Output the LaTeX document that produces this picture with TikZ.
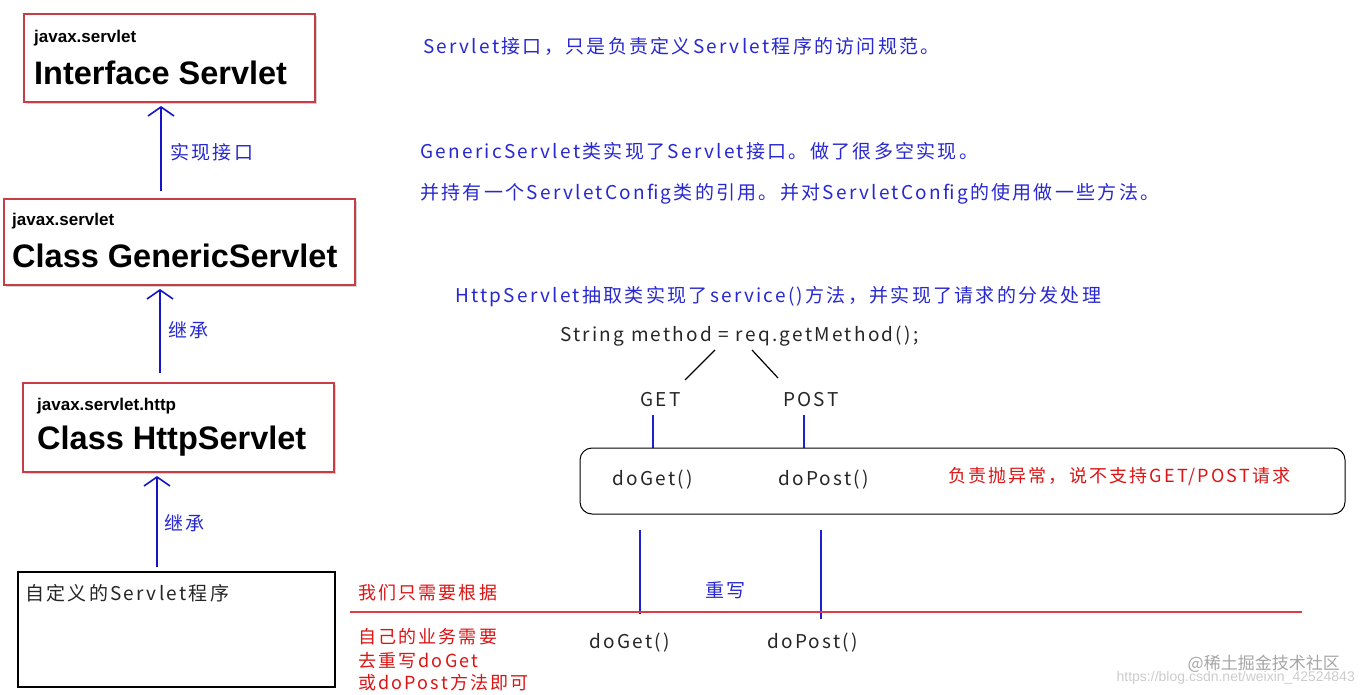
\documentclass[tikz,border=0pt]{standalone}
\usepackage{fontspec}
\setmainfont{Liberation Sans}
\newfontfamily\cjk[LetterSpace=12]{Noto Sans CJK SC}
\newfontfamily\cjkw{Noto Sans CJK SC}
\usetikzlibrary{arrows.meta,shadows}
\definecolor{boxred}{RGB}{200,60,70}
\definecolor{lred}{RGB}{220,60,70}
\definecolor{tred}{RGB}{220,20,20}
\definecolor{ablue}{RGB}{20,20,200}
\definecolor{lblue}{RGB}{30,30,210}
\definecolor{tblue}{RGB}{40,40,210}
\begin{document}
\begin{tikzpicture}[x=1pt,y=-1pt,
  cls/.style={draw=boxred,line width=1.6pt,fill=white,drop shadow={shadow xshift=2pt,shadow yshift=-2pt,opacity=0.35}},
  up/.style={draw=ablue,line width=1.8pt,-{Straight Barb[length=9pt,width=26pt,line width=1.6pt]}},
  bl/.style={draw=lblue,line width=1.3pt},
  bt/.style={font=\cjk\fontsize{19}{21}\selectfont,text=tblue,anchor=west,inner sep=0},
  kt/.style={font=\cjk\fontsize{19}{21}\selectfont,text=black!85,anchor=west,inner sep=0},
  rt/.style={font=\cjk\fontsize{18}{20}\selectfont,text=tred,anchor=west,inner sep=0},
  small/.style={font=\bfseries\fontsize{17}{19}\selectfont,anchor=west,inner sep=0},
  big/.style={font=\bfseries\fontsize{32.5}{34}\selectfont,anchor=west,inner sep=0}]
\useasboundingbox[fill=white] (0,0) rectangle (1362,695);
% boxes
\draw[cls] (24,14) rectangle (315,102);
\node[small] (s1) at (34,38) {javax.servlet};
\node[big] (b1) at (34,73) {Interface Servlet};
\draw[cls] (4,199) rectangle (355,285);
\node[small] (s2) at (12,221) {javax.servlet};
\node[big] (b2) at (12,256) {Class GenericServlet};
\draw[cls] (23,383) rectangle (334,472);
\node[small] (s3) at (37,406) {javax.servlet.http};
\node[big] (b3) at (37,441) {Class HttpServlet};
\draw[black,line width=2pt] (18,572) rectangle (335,687);
\node[kt] (c) at (25,593) {自定义的Servlet程序};
% arrows
\coordinate (a1s) at (161,191); \coordinate (a1e) at (161,106);
\draw[up] (a1s) -- (a1e);
\node[bt] (l1) at (170,152) {实现接口};
\coordinate (a2s) at (160,373); \coordinate (a2e) at (160,289);
\draw[up] (a2s) -- (a2e);
\node[bt] (l2) at (168,330) {继承};
\coordinate (a3s) at (157,567); \coordinate (a3e) at (157,476);
\draw[up] (a3s) -- (a3e);
\node[bt] (l3) at (164,523) {继承};
% notes
\node[bt] (n1) at (423,46) {Servlet接口，只是负责定义Servlet程序的访问规范。};
\node[bt] (n2) at (420,151) {GenericServlet类实现了Servlet接口。做了很多空实现。};
\node[bt] (n3) at (420,194) {并持有一个ServletConfig类的引用。并对ServletConfig的使用做一些方法。};
\node[bt] (n4) at (455,297) {HttpServlet抽取类实现了service()方法，并实现了请求的分发处理};
\node[kt] (m) at (560,336) {String method = req.getMethod();};
\coordinate (m1) at (715,350); \coordinate (g1) at (685,380);
\coordinate (m2) at (752,350); \coordinate (p1) at (778,378);
\draw[black,line width=1.2pt] (m1) -- (g1) (m2) -- (p1);
\node[kt] (get) at (640,400) {GET};
\node[kt] (post) at (783,400) {POST};
\coordinate (v1a) at (653,415); \coordinate (v1b) at (653,458);
\coordinate (v2a) at (804,415); \coordinate (v2b) at (804,455);
\draw[bl,line width=2pt] (v1a) -- (v1b) (v2a) -- (v2b);
\draw[black,line width=1pt,rounded corners=12pt,fill=white] (580,448) rectangle (1345,514);
\node[kt] (dg) at (612,480) {doGet()};
\node[kt] (dp) at (778,480) {doPost()};
\node[rt] (err) at (948,477) {负责抛异常，说不支持GET/POST请求};
% override
\coordinate (w1a) at (640,530); \coordinate (w1b) at (640,614);
\coordinate (w2a) at (821,530); \coordinate (w2b) at (821,619);
\draw[bl] (w1a) -- (w1b) (w2a) -- (w2b);
\node[bt] (rw) at (705,590) {重写};
\coordinate (r1) at (350,612); \coordinate (r2) at (1302,612);
\draw[lred,line width=1.4pt] (r1) -- (r2);
\node[rt] (t1) at (358,593) {我们只需要根据};
\node[rt] (t2) at (358,637) {自己的业务需要};
\node[rt] (t3) at (358,661) {去重写doGet};
\node[rt] (t4) at (358,683) {或doPost方法即可};
\node[kt] (dg2) at (589,643) {doGet()};
\node[kt] (dp2) at (767,643) {doPost()};
% watermark
\node[font=\cjkw\fontsize{17}{19}\selectfont,text=black!35,anchor=east,inner sep=0] (wm1) at (1340,664) {@稀土掘金技术社区};
\node[font=\fontsize{14}{16}\selectfont,text=black!20,anchor=east,inner sep=0] (wm2) at (1355,678) {https://blog.csdn.net/weixin\_42524843};
\end{tikzpicture}
\end{document}
